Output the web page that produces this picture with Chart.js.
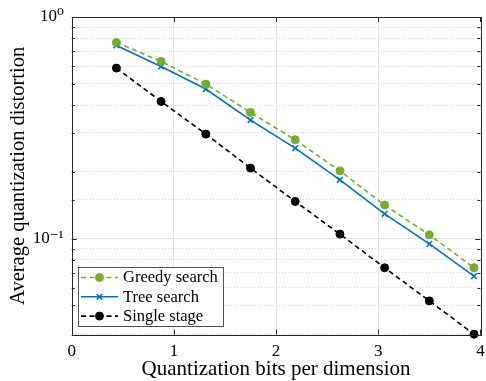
<!DOCTYPE html>
<html><head><meta charset="utf-8">
<script src="https://cdn.jsdelivr.net/npm/chart.js@4.4.0/dist/chart.umd.min.js"></script>
<style>html,body{margin:0;padding:0;background:#fff}</style>
</head><body>
<canvas id="c" width="486" height="381" style="width:486px;height:381px;display:block"></canvas>
<script>
const bits = [0.4375, 0.875, 1.3125, 1.75, 2.1875, 2.625, 3.0625, 3.5, 3.9375];
const greedy = [0.768, 0.630, 0.498, 0.371, 0.279, 0.202, 0.1416, 0.1039, 0.0738];
const tree   = [0.744, 0.598, 0.473, 0.3425, 0.256, 0.184, 0.1293, 0.0946, 0.0676];
const single = [0.588, 0.4157, 0.296, 0.208, 0.147, 0.1047, 0.0738, 0.0523, 0.0370];
const seriesNames = ['Greedy search', 'Tree search', 'Single stage'];
const xTickValues = [0, 1, 2, 3, 4];
const yLabelValues = [1, 0.1];
const yLabelText = ['10\u2070', '10\u207B\u00B9'];
const xTitle = 'Quantization bits per dimension';
const yTitle = 'Average quantization distortion';

const SERIF = "'Liberation Serif','DejaVu Serif',serif";
const isMajor = v => Math.abs(Math.log10(v) - Math.round(Math.log10(v))) < 1e-6;
const pts = arr => bits.map((x, i) => ({x: x, y: arr[i]}));
const noPad = s => { s.paddingLeft = 0; s.paddingRight = 0; s.paddingTop = 0; s.paddingBottom = 0; };

const boxPlugin = {
  id: 'box',
  afterDraw(chart) {
    const ctx = chart.ctx, a = chart.chartArea;
    const xs = chart.scales.x, ys = chart.scales.y;
    ctx.save();
    ctx.strokeStyle = '#262626';
    ctx.lineWidth = 1;
    ctx.beginPath();
    xTickValues.forEach(v => {
      const px = Math.round(xs.getPixelForValue(v)) + 0.5;
      ctx.moveTo(px, a.bottom); ctx.lineTo(px, a.bottom - 5);
      ctx.moveTo(px, a.top); ctx.lineTo(px, a.top + 5);
    });
    ys.ticks.forEach(t => {
      const py = Math.round(ys.getPixelForValue(t.value)) + 0.5;
      const len = isMajor(t.value) ? 5 : 3;
      ctx.moveTo(a.left, py); ctx.lineTo(a.left + len, py);
      ctx.moveTo(a.right, py); ctx.lineTo(a.right - len, py);
    });
    ctx.stroke();
    ctx.strokeRect(Math.round(a.left) + 0.5, Math.round(a.top) + 0.5,
                   Math.round(a.right - a.left), Math.round(a.bottom - a.top));
    // legend
    const lx = 78.5, ly = 267.5, lw = 145, lh = 59;
    ctx.fillStyle = '#fff';
    ctx.fillRect(lx, ly, lw, lh);
    ctx.lineWidth = 0.8;
    ctx.strokeStyle = '#262626';
    ctx.strokeRect(lx, ly, lw, lh);
    chart.data.datasets.forEach((ds, i) => {
      const y = 277.5 + 19.3 * i;
      ctx.save();
      ctx.strokeStyle = ds.borderColor;
      ctx.lineWidth = ds.borderWidth;
      ctx.setLineDash(ds.borderDash || []);
      ctx.beginPath(); ctx.moveTo(81, y); ctx.lineTo(118, y); ctx.stroke();
      ctx.setLineDash([]);
      ctx.fillStyle = ds.pointBackgroundColor;
      ctx.strokeStyle = ds.pointBorderColor;
      ctx.lineWidth = ds.pointBorderWidth;
      Chart.helpers.drawPoint(ctx, {pointStyle: ds.pointStyle, radius: ds.pointRadius,
        borderWidth: ds.pointBorderWidth, rotation: 0}, 99.5, y);
      ctx.restore();
      ctx.fillStyle = '#000';
      ctx.font = '16.5px ' + SERIF;
      ctx.textBaseline = 'middle';
      ctx.textAlign = 'left';
      ctx.fillText(ds.label, 123, y + 0.5);
    });
    ctx.restore();
  }
};

new Chart(document.getElementById('c'), {
  type: 'line',
  data: {
    datasets: [
      {label: seriesNames[0], data: pts(greedy), borderColor: '#77AC30', borderWidth: 1.6,
       borderDash: [5, 3.5], pointStyle: 'circle', pointRadius: 4, pointBorderWidth: 1,
       pointBackgroundColor: '#77AC30', pointBorderColor: '#77AC30', clip: false},
      {label: seriesNames[1], data: pts(tree), borderColor: '#0072BD', borderWidth: 1.6,
       pointStyle: 'crossRot', pointRadius: 4, pointBorderWidth: 1.6,
       pointBackgroundColor: '#0072BD', pointBorderColor: '#0072BD', clip: false},
      {label: seriesNames[2], data: pts(single), borderColor: '#000000', borderWidth: 1.6,
       borderDash: [5, 3.5], pointStyle: 'circle', pointRadius: 4, pointBorderWidth: 1,
       pointBackgroundColor: '#000000', pointBorderColor: '#000000', clip: false}
    ]
  },
  options: {
    responsive: false, animation: false, devicePixelRatio: 1,
    layout: {padding: {left: 0, right: 5, top: 17, bottom: 0}},
    plugins: {legend: {display: false}, tooltip: {enabled: false}},
    elements: {line: {tension: 0}},
    scales: {
      x: {
        type: 'linear', min: 0, max: 4,
        afterBuildTicks: s => { s.ticks = xTickValues.map(v => ({value: v})); },
        afterFit: s => { s.height = 46.3; noPad(s); },
        grid: {drawTicks: false, color: ctx => (ctx.tick && ctx.tick.value > 0 && ctx.tick.value < 4) ? '#e4e4e4' : 'rgba(0,0,0,0)', lineWidth: 1},
        border: {display: false},
        ticks: {padding: 7, color: '#000', font: {family: SERIF, size: 17}, maxRotation: 0},
        title: {display: true, text: xTitle, color: '#000', font: {family: SERIF, size: 21}, padding: {top: 0, bottom: -1}}
      },
      y: {
        type: 'logarithmic', min: 0.0368, max: 1, position: 'left',
        afterFit: s => { s.width = 71.7; noPad(s); },
        grid: {drawTicks: false, color: ctx => (ctx.tick && Math.abs(ctx.tick.value - 0.1) < 1e-9) ? '#e4e4e4' : 'rgba(0,0,0,0)'},
        border: {display: false},
        ticks: {padding: 8, color: '#000', font: {family: SERIF, size: 17}, autoSkip: false,
          callback: v => { const i = yLabelValues.findIndex(w => Math.abs(w - v) < 1e-9); return i >= 0 ? yLabelText[i] : ''; }},
        title: {display: true, text: yTitle, color: '#000', font: {family: SERIF, size: 20.5}, padding: {top: 6, bottom: 0}}
      },
      yMinor: {
        type: 'logarithmic', min: 0.0368, max: 1, position: 'left',
        afterFit: s => { s.width = 0; noPad(s); },
        grid: {drawTicks: false, color: ctx => (ctx.tick && !isMajor(ctx.tick.value)) ? '#d2d2d2' : 'rgba(0,0,0,0)', lineWidth: 1},
        border: {display: false, dash: [1, 2]},
        ticks: {display: false}
      }
    }
  },
  plugins: [boxPlugin]
});
</script>
</body></html>
